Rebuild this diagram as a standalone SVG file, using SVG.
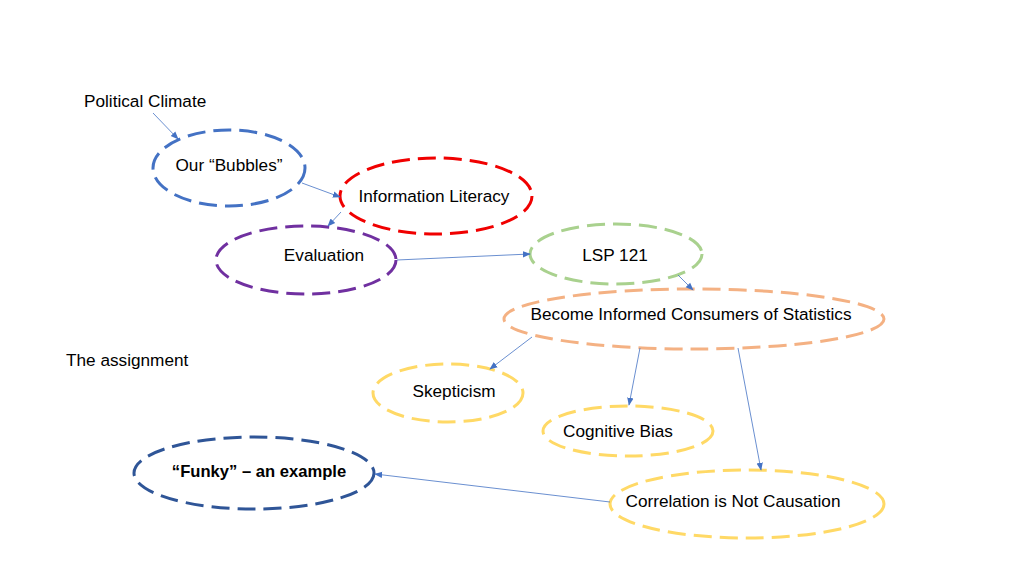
<svg xmlns="http://www.w3.org/2000/svg" width="1024" height="576" viewBox="0 0 1024 576">
<style>
.n{fill:none;stroke-width:3;stroke-dasharray:18 8}
.t{font-family:"Liberation Sans",Arial,sans-serif;font-size:17.2px;fill:#000}
.c{stroke:#4472C4;stroke-width:0.8;fill:none;marker-end:url(#a)}
</style>
<defs>
<marker id="a" viewBox="0 0 10 10" refX="9" refY="5" markerWidth="8" markerHeight="8" markerUnits="userSpaceOnUse" orient="auto">
<path d="M0,1 L10,5 L0,9 z" fill="#4472C4"/>
</marker>
</defs>
<rect width="1024" height="576" fill="#fff"/>
<g id="political-climate"><text class="t" x="84" y="107">Political Climate</text></g>
<g id="the-assignment"><text class="t" x="66" y="366">The assignment</text></g>
<g id="bubbles"><ellipse class="n" cx="229" cy="168" rx="76" ry="38" stroke="#4472C4"/><text class="t" x="229" y="171" text-anchor="middle">Our “Bubbles”</text></g>
<g id="info-literacy"><ellipse class="n" cx="436" cy="196" rx="96" ry="38" stroke="#F00000"/><text class="t" x="434" y="202" text-anchor="middle">Information Literacy</text></g>
<g id="evaluation"><ellipse class="n" cx="306" cy="260" rx="90" ry="34" stroke="#7030A0"/><text class="t" x="324" y="261" text-anchor="middle">Evaluation</text></g>
<g id="lsp121"><ellipse class="n" cx="616" cy="254" rx="86" ry="30" stroke="#A9D18E"/><text class="t" x="615" y="261" text-anchor="middle">LSP 121</text></g>
<g id="become"><ellipse class="n" cx="694" cy="319" rx="190" ry="30" stroke="#F4B183"/><text class="t" x="691" y="320" text-anchor="middle">Become Informed Consumers of Statistics</text></g>
<g id="skepticism"><ellipse class="n" cx="448" cy="393" rx="75" ry="29" stroke="#FFD966"/><text class="t" x="454" y="397" text-anchor="middle">Skepticism</text></g>
<g id="cognitive"><ellipse class="n" cx="628" cy="431" rx="85" ry="25" stroke="#FFD966"/><text class="t" x="618" y="437" text-anchor="middle">Cognitive Bias</text></g>
<g id="funky"><ellipse class="n" cx="254" cy="473" rx="120" ry="36" stroke="#2F5597"/><text class="t" x="259" y="477" text-anchor="middle" font-weight="bold" style="font-size:16.6px">“Funky” – an example</text></g>
<g id="correlation"><ellipse class="n" cx="747" cy="504" rx="137" ry="34" stroke="#FFD966"/><text class="t" x="733" y="507" text-anchor="middle">Correlation is Not Causation</text></g>
<g id="connectors">
<line class="c" x1="153" y1="113" x2="178" y2="139"/>
<line class="c" x1="302" y1="183" x2="340" y2="197"/>
<line class="c" x1="341" y1="212" x2="328" y2="226"/>
<line class="c" x1="397" y1="260" x2="530" y2="254"/>
<line class="c" x1="678" y1="275" x2="693" y2="290"/>
<line class="c" x1="532" y1="337" x2="490" y2="369"/>
<line class="c" x1="640" y1="348" x2="629" y2="405"/>
<line class="c" x1="738" y1="348" x2="761" y2="470"/>
<line class="c" x1="610" y1="502" x2="375" y2="474"/>
</g>
</svg>
